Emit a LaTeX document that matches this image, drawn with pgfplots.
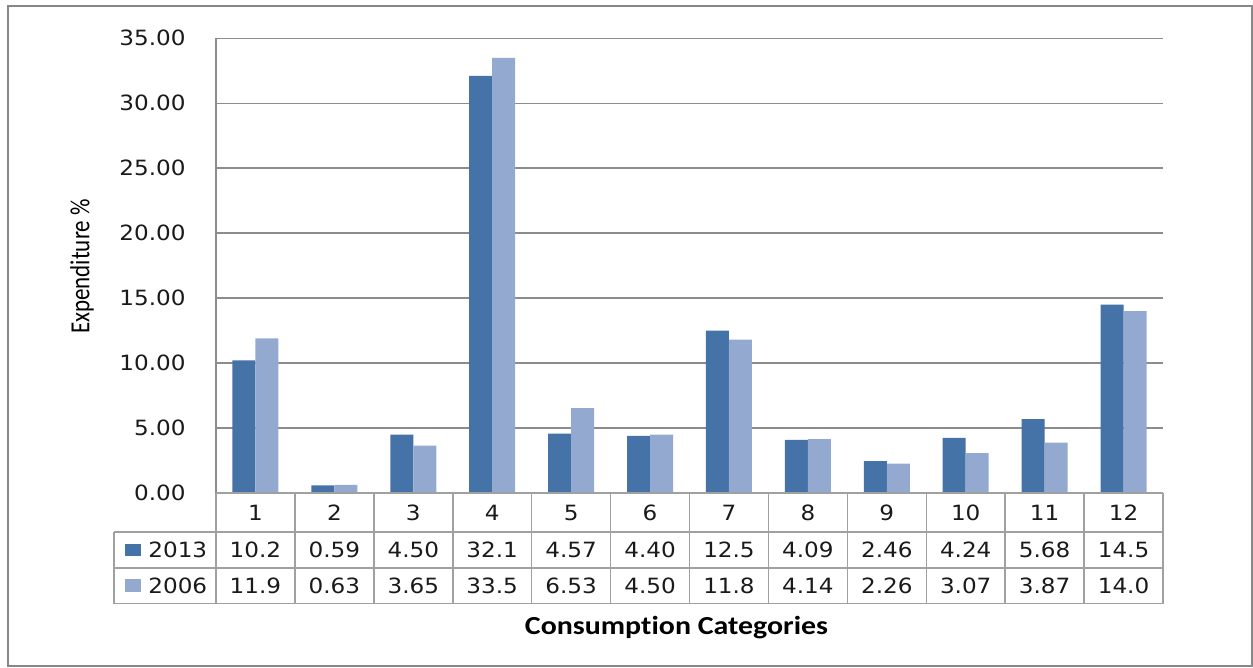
\documentclass[border=0pt]{standalone}
\usepackage{pgfplots}
\pgfplotsset{compat=1.18}
\usepackage{fontspec}
\usepackage{graphicx}
\setmainfont{DejaVu Sans}
\newfontfamily\tickfont[FakeStretch=1.1]{DejaVu Sans}
\newfontfamily\labfont[FakeStretch=1.15,Ligatures=NoCommon]{Carlito}
\newfontfamily\labfontplain[Ligatures=NoCommon]{Carlito}
\newcommand\tf{\tickfont\fontsize{10.5pt}{12pt}\selectfont}
\definecolor{darkbar}{HTML}{4572A7}
\definecolor{lightbar}{HTML}{93A9D0}
\definecolor{gridc}{HTML}{8C8C8C}
\definecolor{tabc}{HTML}{A0A0A0}
\definecolor{framec}{HTML}{878787}
\definecolor{txt}{HTML}{1A1A1A}
\begin{document}
\begin{tikzpicture}[x=0.5pt,y=-0.5pt]
\useasboundingbox (0,0) rectangle (1253,668);
\begin{axis}[
  at={(108pt,-246.5pt)}, anchor=south west,
  scale only axis, width=473.5pt, height=227.35pt,
  xmin=0.5, xmax=12.5, ymin=0, ymax=35,
  enlargelimits=false,
  ybar=0pt, bar width=0.2915,
  axis x line=none,
  axis y line*=left,
  axis line style={draw=gridc, line width=0.75pt},
  ytick={0,5,...,35}, xtick=\empty,
  major tick length=0pt,
  ymajorgrids, grid style={draw=gridc, line width=0.75pt},
  yticklabel style={font=\tf, text=txt, inner sep=0pt, xshift=-15pt},
  /pgf/number format/.cd, fixed, fixed zerofill, precision=2, assume math mode=true,
]
\addplot[fill=darkbar, draw=none] coordinates {
 (1,10.2) (2,0.59) (3,4.50) (4,32.1) (5,4.57) (6,4.40)
 (7,12.5) (8,4.09) (9,2.46) (10,4.24) (11,5.68) (12,14.5)};
\addplot[fill=lightbar, draw=none] coordinates {
 (1,11.9) (2,0.63) (3,3.65) (4,33.5) (5,6.53) (6,4.50)
 (7,11.8) (8,4.14) (9,2.26) (10,3.07) (11,3.87) (12,14.0)};
\end{axis}
% data table grid
\begin{scope}[draw=tabc, line width=0.75pt]
\draw (216,493) -- (1163,493);
\draw (114,532) -- (1163,532);
\draw (114,568) -- (1163,568);
\draw (114,603.5) -- (1163,603.5);
\draw (114,532) -- (114,603.5);
\foreach \k in {0,...,12} \draw ({216+\k*78.9167},493) -- ({216+\k*78.9167},603.5);
\end{scope}
\foreach \v [count=\k] in {1,2,3,4,5,6,7,8,9,10,11,12}
  \node[font=\tf, text=txt] at ({216+(\k-0.5)*78.9167},512.5) {\v};
\foreach \v [count=\k] in {10.2,0.59,4.50,32.1,4.57,4.40,12.5,4.09,2.46,4.24,5.68,14.5}
  \node[font=\tf, text=txt] at ({216+(\k-0.5)*78.9167},550) {\v};
\foreach \v [count=\k] in {11.9,0.63,3.65,33.5,6.53,4.50,11.8,4.14,2.26,3.07,3.87,14.0}
  \node[font=\tf, text=txt] at ({216+(\k-0.5)*78.9167},585.5) {\v};
\fill[darkbar] (125,543.5) rectangle (141,556);
\fill[lightbar] (125,579) rectangle (141,591.5);
\node[font=\tf, text=txt, anchor=west, inner sep=0pt] at (148,550) {2013};
\node[font=\tf, text=txt, anchor=west, inner sep=0pt] at (148,585.5) {2006};
% axis titles
\node[font=\labfont\bfseries\fontsize{13pt}{15pt}\selectfont, text=black] at (676.5,628) {Consumption Categories};
\node[font=\labfontplain\fontsize{11.5pt}{13pt}\selectfont, text=black, rotate=90] at (82,266.5) {\scalebox{1}[1.2]{Expenditure \%}};
% outer frame
\draw[framec, line width=1pt] (8,5.7) rectangle (1251.5,665.5);
\end{tikzpicture}
\end{document}
